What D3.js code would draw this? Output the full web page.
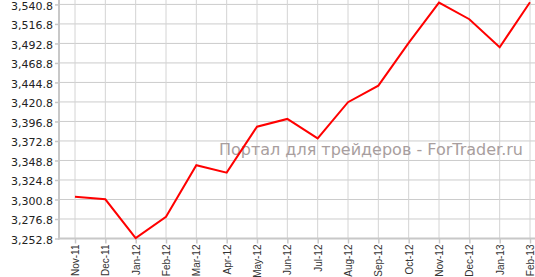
<!DOCTYPE html>
<html>
<head>
<meta charset="utf-8">
<script src="https://cdn.jsdelivr.net/npm/d3@7"></script>
<style>
  html, body { margin: 0; padding: 0; background: #fff; }
  svg { display: block; }
</style>
</head>
<body>
<svg id="chart" width="535" height="277"></svg>
<script>
// data
var months = ['Nov-11', 'Dec-11', 'Jan-12', 'Feb-12', 'Mar-12', 'Apr-12', 'May-12', 'Jun-12',
  'Jul-12', 'Aug-12', 'Sep-12', 'Oct-12', 'Nov-12', 'Dec-12', 'Jan-13', 'Feb-13'];
var values = [3304.2, 3301.0, 3253.2, 3279.6, 3343.0, 3333.8, 3390.4, 3399.9,
  3376.0, 3420.5, 3440.9, 3493.4, 3543.0, 3522.6, 3488.1, 3543.5];
var yTicks = [3252.8, 3276.8, 3300.8, 3324.8, 3348.8, 3372.8, 3396.8, 3420.8,
  3444.8, 3468.8, 3492.8, 3516.8, 3540.8];
var yDomain = [3252.8, 3545];
var watermark = 'Портал для трейдеров - ForTrader.ru';

(function() {
  var svg = d3.select('#chart');
  var left = 59;
  var right = 535;
  var top = 1;
  var bottom = 238.5;

  // ----------
  var x = d3.scalePoint()
    .domain(months)
    .range([75, 530]);

  var y = d3.scaleLinear()
    .domain(yDomain)
    .range([bottom, top]);

  // ----------
  // grid
  svg.append('g')
    .selectAll('line.h')
    .data(yTicks)
    .enter().append('line')
    .attr('x1', left)
    .attr('x2', right)
    .attr('y1', function(d) { return y(d); })
    .attr('y2', function(d) { return y(d); })
    .attr('stroke', '#cccccc')
    .attr('stroke-width', 1);

  svg.append('g')
    .selectAll('line.v')
    .data(months)
    .enter().append('line')
    .attr('x1', function(d) { return x(d); })
    .attr('x2', function(d) { return x(d); })
    .attr('y1', 0)
    .attr('y2', bottom)
    .attr('stroke', '#d4d4d4')
    .attr('stroke-width', 1);

  // ----------
  // axes
  var yAxis = svg.append('g')
    .attr('transform', 'translate(' + left + ',0)')
    .call(d3.axisLeft(y)
      .tickValues(yTicks)
      .tickSize(4)
      .tickPadding(2)
      .tickFormat(d3.format(',.1f')));

  yAxis.select('.domain').remove();
  yAxis.selectAll('.tick line').attr('stroke', '#c8c8c8').attr('stroke-width', 1.5);
  yAxis.selectAll('text')
    .attr('fill', '#222')
    .attr('dy', '0.45em')
    .style('font-family', '"DejaVu Sans", Verdana, sans-serif')
    .style('font-size', '11px');

  svg.append('line')
    .attr('x1', left).attr('x2', left)
    .attr('y1', 0).attr('y2', bottom + 1)
    .attr('stroke', '#c8c8c8')
    .attr('stroke-width', 2);

  var xAxis = svg.append('g')
    .attr('transform', 'translate(0,' + bottom + ')')
    .call(d3.axisBottom(x).tickSize(5).tickSizeOuter(0));

  xAxis.select('.domain').remove();
  xAxis.selectAll('.tick line').attr('stroke', '#c8c8c8').attr('stroke-width', 1.5);
  xAxis.selectAll('text')
    .attr('fill', '#333')
    .attr('text-anchor', 'end')
    .attr('transform', 'rotate(-90)')
    .attr('x', -6)
    .attr('y', 0)
    .attr('dy', '0.35em')
    .style('font-family', '"Liberation Sans", Arial, sans-serif')
    .style('font-size', '10px');

  svg.append('line')
    .attr('x1', left - 1).attr('x2', right)
    .attr('y1', bottom).attr('y2', bottom)
    .attr('stroke', '#c8c8c8')
    .attr('stroke-width', 2);

  // ----------
  // watermark
  svg.append('text')
    .attr('x', 523)
    .attr('y', 155)
    .attr('text-anchor', 'end')
    .attr('fill', '#a89e9e')
    .style('font-family', '"DejaVu Sans", Verdana, sans-serif')
    .style('font-size', '16px')
    .text(watermark);

  // ----------
  // series
  var line = d3.line()
    .x(function(d, i) { return x(months[i]); })
    .y(function(d) { return y(d); });

  svg.append('path')
    .datum(values)
    .attr('d', line)
    .attr('fill', 'none')
    .attr('stroke', '#ff0000')
    .attr('stroke-width', 2)
    .attr('stroke-linejoin', 'miter');
})();
</script>
</body>
</html>
